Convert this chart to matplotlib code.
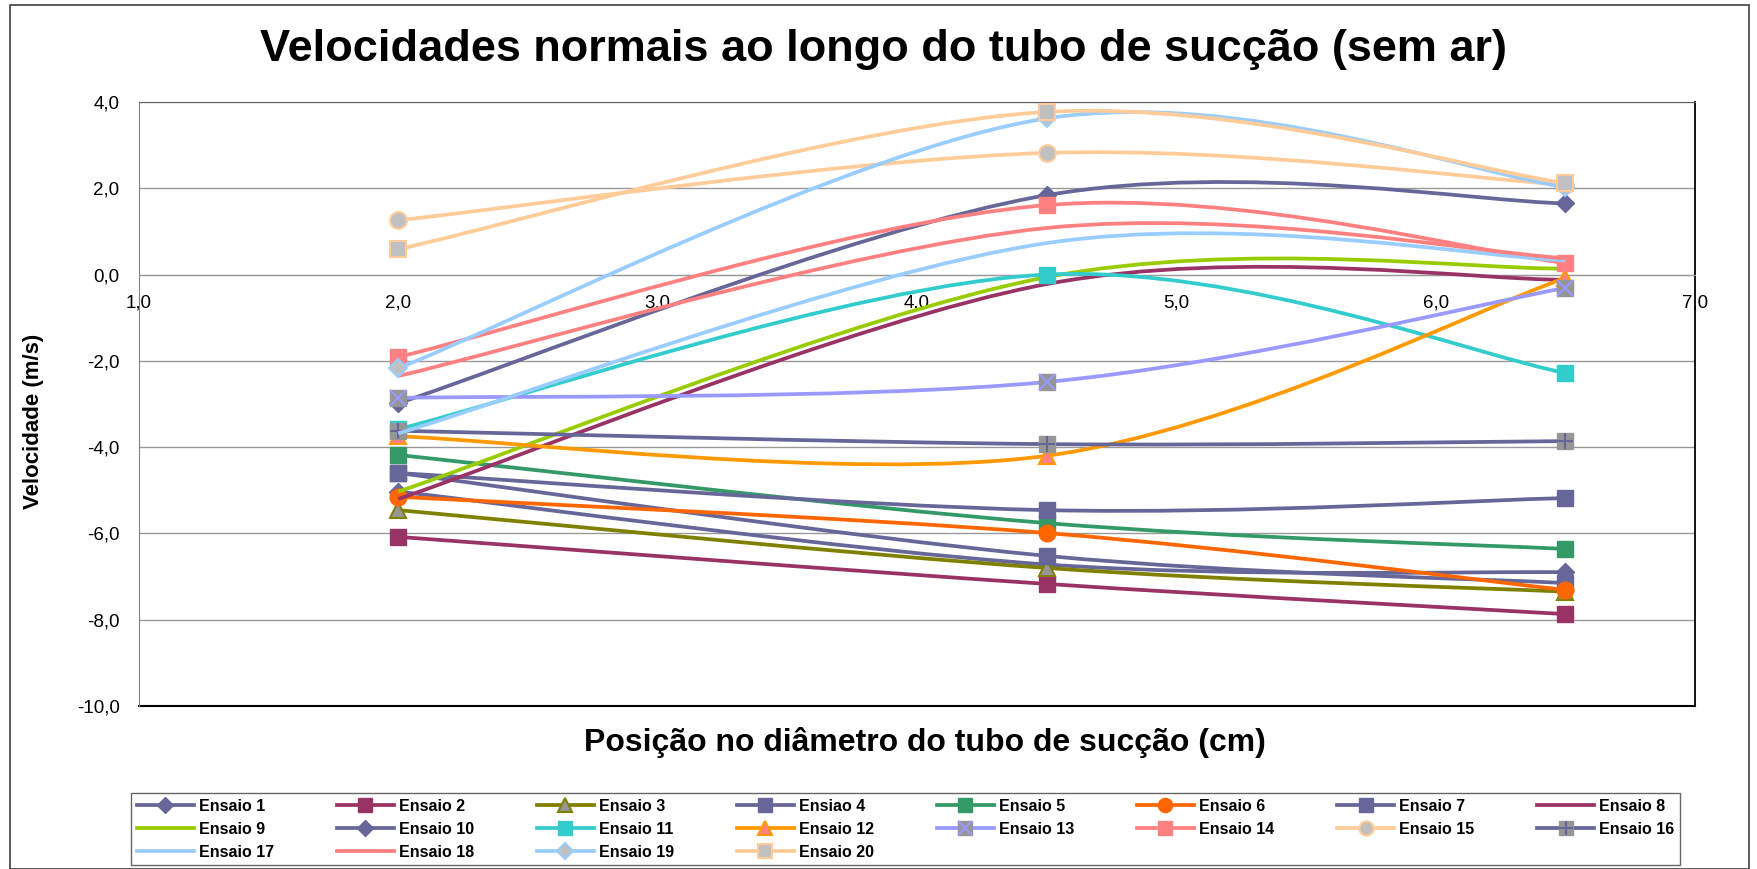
import matplotlib
matplotlib.use("Agg")
import matplotlib.pyplot as plt
import numpy as np
from matplotlib.lines import Line2D
from matplotlib.patches import PathPatch, Rectangle
from matplotlib.path import Path
from matplotlib.ticker import FuncFormatter, MultipleLocator

plt.rcParams["font.family"] = ["Liberation Sans", "DejaVu Sans"]

# positions across the draft tube diameter (cm)
posicao = [2.0, 4.5, 6.5]

ensaio_1 = [-5.03, -6.72, -6.90]
ensaio_2 = [-6.08, -7.17, -7.87]
ensaio_3 = [-5.46, -6.80, -7.35]
ensaio_4 = [-4.60, -6.52, -7.15]
ensaio_5 = [-4.18, -5.76, -6.36]
ensaio_6 = [-5.15, -5.99, -7.31]
ensaio_7 = [-4.60, -5.46, -5.18]
ensaio_8 = [-5.20, -0.22, -0.12]
ensaio_9 = [-5.03, -0.06, 0.14]
ensaio_10 = [-2.98, 1.84, 1.65]
ensaio_11 = [-3.58, 0.00, -2.28]
ensaio_12 = [-3.75, -4.20, -0.08]
ensaio_13 = [-2.86, -2.49, -0.31]
ensaio_14 = [-1.91, 1.61, 0.27]
ensaio_15 = [1.26, 2.82, 2.08]
ensaio_16 = [-3.62, -3.93, -3.86]
ensaio_17 = [-3.68, 0.73, 0.33]
ensaio_18 = [-2.35, 1.08, 0.38]
ensaio_19 = [-2.17, 3.62, 2.03]
ensaio_20 = [0.59, 3.77, 2.12]

nomes = ["Ensaio 1", "Ensaio 2", "Ensaio 3", "Ensiao 4", "Ensaio 5",
         "Ensaio 6", "Ensaio 7", "Ensaio 8", "Ensaio 9", "Ensaio 10",
         "Ensaio 11", "Ensaio 12", "Ensaio 13", "Ensaio 14", "Ensaio 15",
         "Ensaio 16", "Ensaio 17", "Ensaio 18", "Ensaio 19", "Ensaio 20"]
valores = [ensaio_1, ensaio_2, ensaio_3, ensaio_4, ensaio_5, ensaio_6,
           ensaio_7, ensaio_8, ensaio_9, ensaio_10, ensaio_11, ensaio_12,
           ensaio_13, ensaio_14, ensaio_15, ensaio_16, ensaio_17, ensaio_18,
           ensaio_19, ensaio_20]

SLATE = "#666699"
GRAY = "#969696"
SILVER = "#C0C0C0"
# line colour, then marker layers: (marker, size, face, edge, edge width)
ESTILOS = [
    (SLATE,     [("D", 9, SLATE, SLATE, 1)]),
    ("#993366", [("s", 12, "#993366", "#993366", 1)]),
    ("#808000", [("^", 12, GRAY, "#808000", 1.5)]),
    (SLATE,     [("s", 12, SLATE, SLATE, 1)]),
    ("#339966", [("s", 12, "#339966", "#339966", 1)]),
    ("#FF6600", [("o", 12, "#FF6600", "#FF6600", 1)]),
    (SLATE,     [("s", 12, SLATE, SLATE, 1)]),
    ("#993366", []),
    ("#99CC00", []),
    (SLATE,     [("D", 9, SLATE, SLATE, 1)]),
    ("#33CCCC", [("s", 12, "#33CCCC", "#33CCCC", 1)]),
    ("#FF9900", [("^", 12, "#FF8080", "#FF9900", 1.5)]),
    ("#9999FF", [("s", 12, GRAY, GRAY, 1), ("x", 12, "#9999FF", "#9999FF", 1.5)]),
    ("#FF8080", [("s", 12, "#FF8080", "#FF8080", 1)]),
    ("#FFCC99", [("o", 12, SILVER, "#FFCC99", 1.5)]),
    (SLATE,     [("s", 12, GRAY, GRAY, 1), ("+", 12, SLATE, SLATE, 1.5)]),
    ("#99CCFF", []),
    ("#FF8080", []),
    ("#99CCFF", [("D", 9, SILVER, "#99CCFF", 1.5)]),
    ("#FFCC99", [("s", 12, SILVER, "#FFCC99", 1.5)]),
]

LW = 2.7


def curva_suave(xs, ys):
    """Excel-like smoothed line: Catmull-Rom segments as cubic Bezier."""
    pts = np.column_stack([xs, ys]).astype(float)
    n = len(pts)
    verts = [pts[0]]
    codes = [Path.MOVETO]
    for i in range(n - 1):
        p0 = pts[max(i - 1, 0)]
        p1 = pts[i]
        p2 = pts[i + 1]
        p3 = pts[min(i + 2, n - 1)]
        verts += [p1 + (p2 - p0) / 6, p2 - (p3 - p1) / 6, p2]
        codes += [Path.CURVE4] * 3
    return Path(verts, codes)


def virgula(v, _pos):
    return f"{v:.1f}".replace(".", ",")


W, H = 1758, 869
fig = plt.figure(figsize=(W / 100, H / 100), dpi=100)
ax = fig.add_axes([139 / W, 1 - 706 / H, (1695 - 139) / W, (706 - 102) / H])

ax.set_xlim(1.0, 7.0)
ax.set_ylim(-10.0, 4.0)
ax.xaxis.set_major_locator(MultipleLocator(1.0))
ax.yaxis.set_major_locator(MultipleLocator(2.0))
ax.xaxis.set_major_formatter(FuncFormatter(virgula))
ax.yaxis.set_major_formatter(FuncFormatter(virgula))
ax.yaxis.grid(True, color="#999999", linewidth=1.0, zorder=0)
ax.set_axisbelow(True)
ax.tick_params(length=0, labelsize=13.5)
ax.tick_params(axis="y", pad=14)
ax.tick_params(axis="x", pad=14)

ax.spines["bottom"].set_position(("data", 0))
ax.spines["bottom"].set_color("#999999")
ax.spines["left"].set_color("#808080")
ax.spines["top"].set_color("#606060")
ax.spines["right"].set_color("black")
ax.spines["right"].set_linewidth(1.3)
ax.axhline(-10, color="black", linewidth=1.5, zorder=1, clip_on=False)

handles = []
for i, (nome, ys) in enumerate(zip(nomes, valores)):
    cor, camadas = ESTILOS[i]
    z = 3 + i * 0.02
    ax.add_patch(PathPatch(curva_suave(posicao, ys), facecolor="none",
                           edgecolor=cor, linewidth=LW, zorder=z,
                           capstyle="butt", joinstyle="round"))
    partes = []
    for m, ms, fc, ec, mew in camadas:
        ax.plot(posicao, ys, linestyle="none", marker=m, markersize=ms,
                markerfacecolor=fc, markeredgecolor=ec, markeredgewidth=mew,
                zorder=z + 0.01)
    if camadas:
        for k, (m, ms, fc, ec, mew) in enumerate(camadas):
            partes.append(Line2D([], [], color=cor, linewidth=LW if k == 0 else 0,
                                 marker=m, markersize=ms * 0.85,
                                 markerfacecolor=fc, markeredgecolor=ec,
                                 markeredgewidth=mew))
    else:
        partes.append(Line2D([], [], color=cor, linewidth=LW))
    handles.append(tuple(partes) if len(partes) > 1 else partes[0])

# legend read row by row in the reference (8 columns)
ncol = 8
ordem = []
for c in range(ncol):
    for r in range(0, len(nomes), ncol):
        if c + r < len(nomes):
            ordem.append(c + r)
leg = fig.legend([handles[k] for k in ordem], [nomes[k] for k in ordem],
                 loc="upper left", ncol=ncol, mode="expand",
                 bbox_to_anchor=(131 / W, 1 - 793 / H, (1680 - 131) / W, 0),
                 borderaxespad=0, frameon=True, fancybox=False,
                 edgecolor="#404040", handlelength=3.6, handletextpad=0.3,
                 labelspacing=0.5, borderpad=0.35, columnspacing=0.5,
                 prop={"weight": "bold", "size": 11.5})
leg.get_frame().set_linewidth(1.0)

fig.text(884 / W, 1 - 50 / H, "Velocidades normais ao longo do tubo de sucção (sem ar)",
         ha="center", va="center", fontsize=32.5, fontweight="bold")
fig.text(925 / W, 1 - 743 / H, "Posição no diâmetro do tubo de sucção (cm)",
         ha="center", va="center", fontsize=23, fontweight="bold")
fig.text(34 / W, 1 - 421 / H, "Velocidade (m/s)", rotation=90,
         ha="center", va="center", fontsize=16, fontweight="bold")

fig.patches.append(Rectangle((10 / W, 0), (1749 - 10) / W, 1 - 5 / H,
                             transform=fig.transFigure, fill=False,
                             edgecolor="#404040", linewidth=1.2))

fig.savefig("out.png", dpi=100)
